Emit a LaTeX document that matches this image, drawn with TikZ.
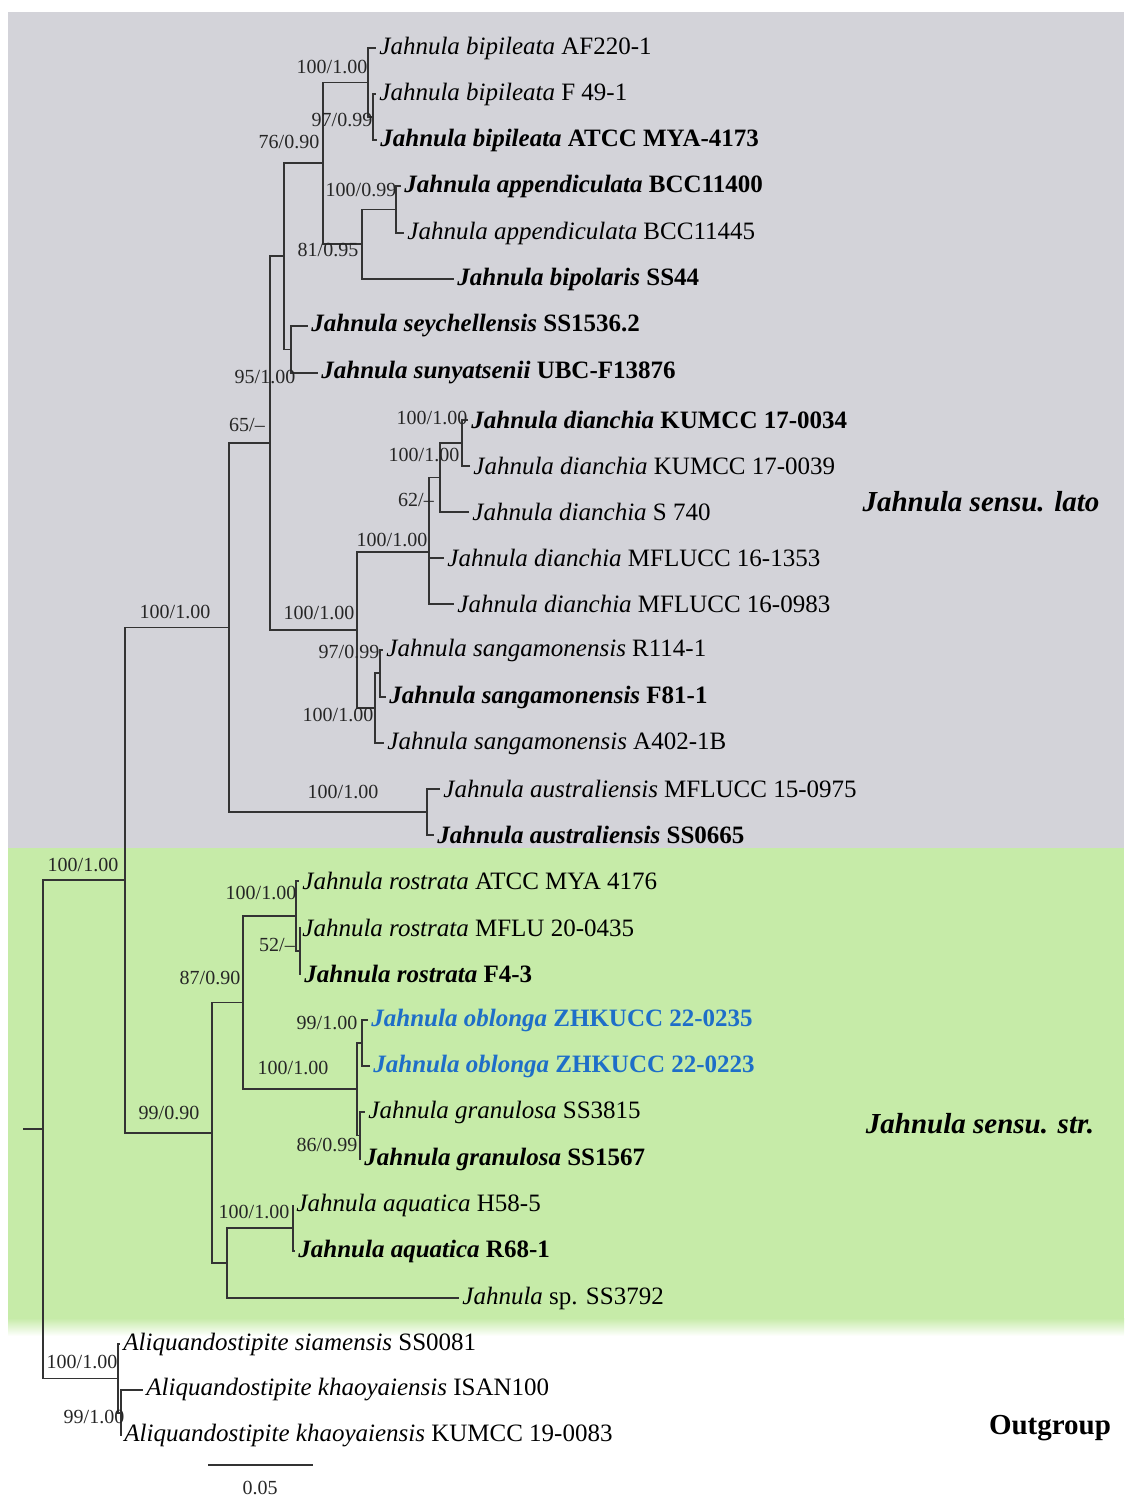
\documentclass[tikz,border=0pt]{standalone}
\usepackage{fontspec}
\setmainfont{Liberation Serif}
\usepackage{tikz}
\definecolor{latogray}{RGB}{211,211,217}
\definecolor{strgreen}{RGB}{198,235,168}
\definecolor{newblue}{RGB}{30,110,200}
\usetikzlibrary{positioning}

\begin{document}
\begin{tikzpicture}[x=0.5pt,y=-0.5pt,
  branch/.style={draw=black!80,line width=0.6pt},
  leaf/.style={anchor=west,inner xsep=1.5pt,inner ysep=0pt,font=\fontsize{12.5}{14}\selectfont},
  typeleaf/.style={leaf,font=\fontsize{12.5}{14}\selectfont\bfseries},
  newleaf/.style={typeleaf,text=newblue},
  bs/.style={inner sep=0pt,font=\fontsize{10}{12}\selectfont,text=black!85},
  clade/.style={font=\fontsize{14.5}{17}\selectfont\bfseries\itshape}
]
  \useasboundingbox (0,0) rectangle (1124,1504);
  % shaded clades
  \fill[latogray] (8,12) rectangle (1124,848);
  \fill[strgreen] (8,848) rectangle (1124,1318);
  \shade[top color=strgreen,bottom color=white] (8,1318) rectangle (1124,1336);

  % internal nodes
  \coordinate (stub) at (23,1129);
  \coordinate (root) at (43,1129);
  \coordinate (A) at (125,880);
  \coordinate (B) at (229,627.5);
  \coordinate (C) at (270,443);
  \coordinate (D) at (284,256);
  \coordinate (E) at (323,163);
  \coordinate (F) at (368,82.5);
  \coordinate (G) at (373,117);
  \coordinate (H) at (362,244);
  \coordinate (I) at (396,209.5);
  \coordinate (SY) at (291,349.5);
  \coordinate (DS) at (357,630);
  \coordinate (DI) at (429,552);
  \coordinate (DJ) at (440,477.5);
  \coordinate (DK) at (462,443);
  \coordinate (SA) at (375,708);
  \coordinate (SB) at (380,673);
  \coordinate (AUS) at (427,812);
  \coordinate (S) at (212,1133);
  \coordinate (R1) at (243,1002.5);
  \coordinate (RO) at (296,916);
  \coordinate (RO2) at (300,951);
  \coordinate (OB) at (357,1089);
  \coordinate (OB1) at (362,1043);
  \coordinate (OB2) at (360,1135.5);
  \coordinate (AQ) at (227,1263);
  \coordinate (AQ2) at (293,1228);
  \coordinate (O) at (118,1378.5);
  \coordinate (O2) at (121,1413);

  % Jahnula sensu lato
  \node[leaf] (L1) at (376,48) {\textit{Jahnula bipileata} AF220-1};
  \node[leaf] (L2) at (376,94) {\textit{Jahnula bipileata} F 49-1};
  \node[typeleaf] (L3) at (377,140) {\textit{Jahnula bipileata} ATCC MYA-4173};
  \node[typeleaf] (L4) at (401,186) {\textit{Jahnula appendiculata} BCC11400};
  \node[leaf] (L5) at (404,233) {\textit{Jahnula appendiculata} BCC11445};
  \node[typeleaf] (L6) at (454,279) {\textit{Jahnula bipolaris} SS44};
  \node[typeleaf] (L7) at (308,326) {\textit{Jahnula seychellensis} SS1536.2};
  \node[typeleaf] (L8) at (318,373) {\textit{Jahnula sunyatsenii} UBC-F13876};
  \node[typeleaf] (L9) at (468,420) {\textit{Jahnula dianchia} KUMCC 17-0034};
  \node[leaf] (L10) at (470,466) {\textit{Jahnula dianchia} KUMCC 17-0039};
  \node[leaf] (L11) at (469,512) {\textit{Jahnula dianchia} S 740};
  \node[leaf] (L12) at (444,558) {\textit{Jahnula dianchia} MFLUCC 16-1353};
  \node[leaf] (L13) at (454,604) {\textit{Jahnula dianchia} MFLUCC 16-0983};
  \node[leaf] (L14) at (383,650) {\textit{Jahnula sangamonensis} R114-1};
  \node[typeleaf] (L15) at (386,697) {\textit{Jahnula sangamonensis} F81-1};
  \node[leaf] (L16) at (384,743) {\textit{Jahnula sangamonensis} A402-1B};
  \node[leaf] (L17) at (440,789) {\textit{Jahnula australiensis} MFLUCC 15-0975};
  \node[typeleaf] (L18) at (434,835) {\textit{Jahnula australiensis} SS0665};
  % Jahnula sensu stricto
  \node[leaf] (L19) at (299,881) {\textit{Jahnula rostrata} ATCC MYA 4176};
  \node[leaf] (L20) at (299,928) {\textit{Jahnula rostrata} MFLU 20-0435};
  \node[typeleaf] (L21) at (301,974) {\textit{Jahnula rostrata} F4-3};
  \node[newleaf] (L22) at (368,1020) {\textit{Jahnula oblonga} ZHKUCC 22-0235};
  \node[newleaf] (L23) at (370,1066) {\textit{Jahnula oblonga} ZHKUCC 22-0223};
  \node[leaf] (L24) at (365,1112) {\textit{Jahnula granulosa} SS3815};
  \node[typeleaf] (L25) at (361,1159) {\textit{Jahnula granulosa} SS1567};
  \node[leaf] (L26) at (293,1205) {\textit{Jahnula aquatica} H58-5};
  \node[typeleaf] (L27) at (295,1251) {\textit{Jahnula aquatica} R68-1};
  \node[leaf] (L28) at (459,1298) {\textit{Jahnula} sp. SS3792};
  % outgroup
  \node[leaf] (L29) at (120,1344) {\textit{Aliquandostipite siamensis} SS0081};
  \node[leaf] (L30) at (143,1390) {\textit{Aliquandostipite khaoyaiensis} ISAN100};
  \node[leaf] (L31) at (121,1436) {\textit{Aliquandostipite khaoyaiensis} KUMCC 19-0083};

  % branches
  \draw[branch] (stub) -- (root);
  \foreach \p/\c in {root/A,root/O,A/B,A/S,B/C,B/AUS,C/D,C/DS,D/E,D/SY,E/F,E/H,
      F/L1,F/G,G/L2,G/L3,H/I,H/L6,I/L4,I/L5,SY/L7,SY/L8,DS/DI,DS/SA,DI/DJ,DI/L12,
      DI/L13,DJ/DK,DJ/L11,DK/L9,DK/L10,SA/SB,SA/L16,SB/L14,SB/L15,AUS/L17,AUS/L18,
      S/R1,S/AQ,R1/RO,R1/OB,RO/L19,RO/RO2,RO2/L20,RO2/L21,OB/OB1,OB/OB2,OB1/L22,
      OB1/L23,OB2/L24,OB2/L25,AQ/AQ2,AQ/L28,AQ2/L26,AQ2/L27,O/L29,O/O2,O2/L30,O2/L31}
    \draw[branch] (\p) |- (\c.west);

  % support values
  \node[bs] (bsA) at (83,865) {100/1.00};
  \node[bs] (bsB) at (175,612) {100/1.00};
  \node[bs] (bsS) at (169,1113) {99/0.90};
  \node[bs] (bsC) at (247,425) {65/--};
  \node[bs] (bsAUS) at (343,792) {100/1.00};
  \node[bs] (bsE) at (289,142) {76/0.90};
  \node[bs] (bsF) at (332,67) {100/1.00};
  \node[bs] (bsG) at (342,120) {97/0.99};
  \node[bs] (bsI) at (361,190) {100/0.99};
  \node[bs] (bsH) at (328,250) {81/0.95};
  \node[bs] (bsSY) at (265,377) {95/1.00};
  \node[bs] (bsDS) at (319,613) {100/1.00};
  \node[bs] (bsDI) at (392,540) {100/1.00};
  \node[bs] (bsDJ) at (416,500) {62/--};
  \node[bs] (bsDK) at (424,455) {100/1.00};
  \node[bs] (bsDL) at (432,418) {100/1.00};
  \node[bs] (bsSB) at (349,652) {97/0.99};
  \node[bs] (bsSA) at (338,715) {100/1.00};
  \node[bs] (bsRO) at (261,893) {100/1.00};
  \node[bs] (bsRO2) at (277,945) {52/--};
  \node[bs] (bsR1) at (210,978) {87/0.90};
  \node[bs] (bsOB) at (293,1068) {100/1.00};
  \node[bs] (bsOB1) at (327,1023) {99/1.00};
  \node[bs] (bsOB2) at (327,1145) {86/0.99};
  \node[bs] (bsAQ2) at (254,1212) {100/1.00};
  \node[bs] (bsO) at (82,1362) {100/1.00};
  \node[bs] (bsO2) at (94,1417) {99/1.00};

  % clade names
  \node[clade] (lato) at (981,502) {Jahnula sensu. lato};
  \node[clade] (stricto) at (980,1124) {Jahnula sensu. str.};
  \node[font=\fontsize{14.5}{17}\selectfont\bfseries] (outg) at (1050,1428) {Outgroup};

  % scale bar
  \coordinate (sb1) at (208,1465);
  \coordinate (sb2) at (313,1465);
  \draw[branch] (sb1) -- (sb2);
  \node[bs] (sbl) at (260,1488) {0.05};
\end{tikzpicture}
\end{document}
